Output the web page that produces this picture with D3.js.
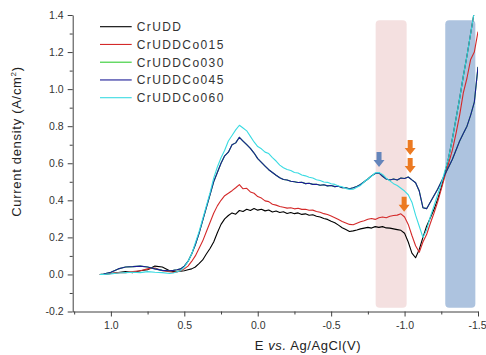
<!DOCTYPE html>
<html>
<head>
<meta charset="utf-8">
<script src="https://cdn.jsdelivr.net/npm/d3@7"></script>
<style>
  body { margin: 0; background: #fff; }
  svg { display: block; font-family: "Liberation Sans", Arial, sans-serif; }
</style>
</head>
<body>
<figure id="cv" style="margin:0"></figure>
<script>
// potential, V vs Ag/AgCl (scan goes from +1.07 down to -1.5)
const potential = [
  1.075, 1.05, 1.0, 0.95, 0.9, 0.85, 0.8, 0.75, 0.7, 0.65,
  0.6, 0.575, 0.55, 0.525, 0.5, 0.475, 0.45, 0.425, 0.4, 0.375,
  0.35, 0.325, 0.3, 0.275, 0.25, 0.225, 0.2, 0.175, 0.15, 0.125,
  0.1, 0.075, 0.05, 0.025, 0.0, -0.025, -0.05, -0.075, -0.1, -0.125,
  -0.15, -0.175, -0.2, -0.225, -0.25, -0.275, -0.3, -0.325, -0.35, -0.375,
  -0.4, -0.425, -0.45, -0.475, -0.5, -0.525, -0.55, -0.575, -0.6, -0.625,
  -0.65, -0.675, -0.7, -0.725, -0.75, -0.775, -0.8, -0.825, -0.85, -0.875,
  -0.9, -0.925, -0.95, -0.975, -1.0, -1.025, -1.05, -1.075, -1.1, -1.125,
  -1.15, -1.175, -1.2, -1.225, -1.25, -1.275, -1.3, -1.325, -1.35, -1.375,
  -1.4, -1.425, -1.45, -1.475, -1.5
];

// current density, A/cm2
const crUDD = [
  0.0, 0.0, 0.005, 0.01, 0.015, 0.01, 0.02, 0.025, 0.045, 0.04,
  0.02, 0.015, 0.015, 0.018, 0.02, 0.025, 0.03, 0.04, 0.058, 0.078,
  0.11, 0.14, 0.175, 0.225, 0.27, 0.3, 0.318, 0.332, 0.325, 0.345,
  0.34, 0.352, 0.345, 0.356, 0.347, 0.352, 0.343, 0.348, 0.337, 0.342,
  0.334, 0.338, 0.329, 0.334, 0.328, 0.332, 0.324, 0.327, 0.319, 0.322,
  0.314, 0.31, 0.302, 0.297, 0.287, 0.279, 0.266, 0.252, 0.242, 0.232,
  0.235, 0.24, 0.246, 0.25, 0.254, 0.25, 0.258, 0.254, 0.258, 0.251,
  0.25, 0.246, 0.242, 0.238, 0.222, 0.175, 0.115, 0.09, 0.135, 0.2,
  0.26, 0.305, 0.35, 0.405, 0.47, 0.55, 0.63, 0.73, 0.84, 0.95,
  1.07, 1.18, 1.3, 1.42, 1.45
];
const crUDDCo015 = [
  0.0, 0.0, 0.005, 0.01, 0.01, 0.015, 0.02, 0.03, 0.035, 0.02,
  0.015, 0.012, 0.015, 0.02, 0.03, 0.045, 0.07, 0.1, 0.14, 0.18,
  0.23, 0.28, 0.33, 0.37, 0.4, 0.425, 0.438, 0.452, 0.468, 0.485,
  0.462, 0.465, 0.445, 0.438, 0.42, 0.412, 0.397, 0.393, 0.379, 0.374,
  0.367, 0.363, 0.358, 0.36, 0.354, 0.357, 0.351, 0.352, 0.346, 0.347,
  0.34, 0.336, 0.328, 0.323, 0.315, 0.306, 0.296, 0.286, 0.278, 0.27,
  0.268, 0.276, 0.284, 0.29, 0.298, 0.302, 0.297, 0.306, 0.31, 0.306,
  0.314, 0.318, 0.32, 0.327, 0.31, 0.27, 0.21, 0.155, 0.12, 0.175,
  0.215, 0.275, 0.33, 0.39, 0.46, 0.53, 0.6, 0.67, 0.76, 0.86,
  0.98, 1.06, 1.16, 1.2, 1.31
];
const crUDDCo045 = [
  0.0, 0.002, 0.012, 0.03, 0.04, 0.042, 0.045, 0.04, 0.03, 0.022,
  0.02, 0.022, 0.025, 0.03, 0.045, 0.07, 0.11, 0.16, 0.22, 0.29,
  0.36, 0.43, 0.5, 0.55, 0.6, 0.64, 0.66, 0.7, 0.71, 0.74,
  0.72, 0.7, 0.68, 0.655, 0.625, 0.605, 0.585, 0.565, 0.55, 0.535,
  0.522, 0.512, 0.51, 0.503, 0.5, 0.496, 0.497, 0.49, 0.492, 0.486,
  0.487, 0.481, 0.484, 0.478, 0.48, 0.474, 0.476, 0.468, 0.468, 0.462,
  0.468, 0.475, 0.485, 0.5, 0.515, 0.532, 0.545, 0.548, 0.53, 0.515,
  0.51, 0.515, 0.51, 0.52, 0.518, 0.526, 0.51, 0.495, 0.45, 0.36,
  0.355, 0.39, 0.425, 0.46, 0.5, 0.54, 0.58, 0.62, 0.67, 0.72,
  0.76, 0.8, 0.86, 0.93, 1.12
];
// the Co030 trace cannot be told apart in the picture: it sits under Co045
const crUDDCo030 = crUDDCo045;
const crUDDCo060 = [
  0.0, 0.0, 0.003, 0.008, 0.01, 0.012, 0.01, 0.015, 0.012, 0.01,
  0.005, 0.008, 0.015, 0.02, 0.04, 0.07, 0.11, 0.17, 0.23, 0.3,
  0.37, 0.44, 0.52, 0.58, 0.63, 0.67, 0.72, 0.75, 0.78, 0.805,
  0.79, 0.775, 0.745, 0.715, 0.69, 0.678, 0.66, 0.652, 0.63, 0.612,
  0.59, 0.576, 0.566, 0.561, 0.55, 0.547, 0.537, 0.532, 0.524, 0.52,
  0.511, 0.507, 0.499, 0.497, 0.489, 0.486, 0.477, 0.473, 0.464, 0.459,
  0.46, 0.47, 0.48, 0.5, 0.515, 0.53, 0.548, 0.55, 0.54, 0.52,
  0.505, 0.49, 0.48, 0.465, 0.45, 0.43, 0.39, 0.32, 0.26, 0.2,
  0.24, 0.31, 0.37, 0.43, 0.49, 0.56, 0.63, 0.73, 0.84, 0.95,
  1.07, 1.18, 1.3, 1.42, 1.45
];

const seriesNames = ["CrUDD", "CrUDDCo015", "CrUDDCo030", "CrUDDCo045", "CrUDDCo060"];
const seriesValues = [crUDD, crUDDCo015, crUDDCo030, crUDDCo045, crUDDCo060];
const seriesColors = ["#000000", "#d42a2a", "#33cc33", "#1c1c96", "#3adbe2"];

const xTicks = [1.0, 0.5, 0.0, -0.5, -1.0, -1.5];
const yTicks = [-0.2, 0.0, 0.2, 0.4, 0.6, 0.8, 1.0, 1.2, 1.4];

// highlighted potential windows and arrow tips (E, j)
const pinkBand = [-0.803, -1.014];
const blueBand = [-1.277, -1.482];
const bandSpan = [-0.18, 1.372];
const blueArrows = [[-0.826, 0.58]];
const orangeArrows = [[-1.038, 0.644], [-1.038, 0.547], [-0.997, 0.338]];

const width = 486, height = 355;
const plotLeft = 72.7, plotRight = 478, plotTop = 15, plotBottom = 311.5;

const svg = d3.select("figure#cv")
  .append("svg")
  .attr("width", width)
  .attr("height", height);

const x = d3.scaleLinear().domain([1.26, -1.5]).range([plotLeft, plotRight]);
const y = d3.scaleLinear().domain([-0.2, 1.4]).range([plotBottom, plotTop]);
const fmt = v => v.toFixed(1);

// shaded windows
[[pinkBand, "#f4e0e0"], [blueBand, "#adc3df"]].forEach(([b, c]) => {
  svg.append("rect")
    .attr("x", x(b[0]))
    .attr("y", y(bandSpan[1]))
    .attr("width", x(b[1]) - x(b[0]))
    .attr("height", y(bandSpan[0]) - y(bandSpan[1]))
    .attr("rx", 4)
    .attr("fill", c);
});

// curves
svg.append("clipPath").attr("id", "plot")
  .append("rect")
  .attr("x", plotLeft).attr("y", plotTop)
  .attr("width", plotRight - plotLeft).attr("height", plotBottom - plotTop);

const line = d3.line()
  .x((d, i) => x(potential[i]))
  .y(d => y(d));

svg.append("g")
  .attr("clip-path", "url(#plot)")
  .selectAll("path")
  .data(seriesValues)
  .enter()
  .append("path")
  .attr("d", d => line(d))
  .attr("fill", "none")
  .attr("stroke", (d, i) => seriesColors[i])
  .attr("stroke-width", 1.1)
  .attr("stroke-linejoin", "round");

// down arrows
function arrow(tip, color) {
  const tx = x(tip[0]), ty = y(tip[1]);
  svg.append("path")
    .attr("d", `M${tx},${ty} L${tx - 5.5},${ty - 7} L${tx - 2.5},${ty - 7} L${tx - 2.5},${ty - 15}` +
               ` L${tx + 2.5},${ty - 15} L${tx + 2.5},${ty - 7} L${tx + 5.5},${ty - 7} Z`)
    .attr("fill", color);
}
blueArrows.forEach(t => arrow(t, "#6485bb"));
orangeArrows.forEach(t => arrow(t, "#ec7a22"));

// axes
const xAxis = svg.append("g")
  .attr("transform", `translate(0,${plotBottom})`)
  .call(d3.axisBottom(x).tickValues(xTicks).tickFormat(fmt).tickSize(5).tickPadding(5).tickSizeOuter(0));
svg.append("g")
  .attr("transform", `translate(0,${plotBottom})`)
  .call(d3.axisBottom(x).tickValues([1.25, 0.75, 0.25, -0.25, -0.75, -1.25]).tickFormat("").tickSize(3))
  .select(".domain").remove();

svg.append("g")
  .attr("transform", `translate(${plotLeft},0)`)
  .call(d3.axisLeft(y).tickValues(yTicks).tickFormat(fmt).tickSize(5).tickPadding(4).tickSizeOuter(0));
svg.append("g")
  .attr("transform", `translate(${plotLeft},0)`)
  .call(d3.axisLeft(y).tickValues([-0.1, 0.1, 0.3, 0.5, 0.7, 0.9, 1.1, 1.3]).tickFormat("").tickSize(3))
  .select(".domain").remove();

svg.selectAll(".domain, .tick line").attr("stroke", "#404040");
svg.selectAll(".tick text")
  .attr("fill", "#333")
  .style("font-size", "10.5px")
  .style("font-family", "'Liberation Sans', Arial, sans-serif");

// last x label sits right at the page edge: keep it inside
xAxis.selectAll(".tick text").filter(d => d === -1.5)
  .attr("text-anchor", "end")
  .attr("dx", "8px");

// axis titles
const xt = svg.append("text")
  .attr("x", 308).attr("y", 350)
  .attr("text-anchor", "middle")
  .attr("fill", "#222")
  .style("font-size", "13px")
  .style("letter-spacing", "0.6px");
xt.append("tspan").text("E ");
xt.append("tspan").style("font-style", "italic").text("vs.");
xt.append("tspan").text(" Ag/AgCl(V)");

const yt = svg.append("text")
  .attr("transform", "translate(20.5,141.5) rotate(-90)")
  .attr("text-anchor", "middle")
  .attr("fill", "#222")
  .style("font-size", "13px")
  .style("letter-spacing", "0.7px");
yt.append("tspan").text("Current density (A/cm");
yt.append("tspan").attr("dy", -5).style("font-size", "8px").text("2");
yt.append("tspan").attr("dy", 5).text(")");

// legend
const legend = svg.append("g")
  .selectAll("g")
  .data(seriesNames)
  .enter()
  .append("g")
  .attr("transform", (d, i) => `translate(100,${26.7 + i * 17.75})`);
legend.append("line")
  .attr("x1", 0).attr("x2", 31.7)
  .attr("stroke", (d, i) => seriesColors[i])
  .attr("stroke-width", 1.1);
legend.append("text")
  .attr("x", 36.7).attr("y", 4.3)
  .attr("fill", "#333")
  .style("font-size", "12px")
  .style("letter-spacing", "1.4px")
  .text(d => d);
</script>
</body>
</html>
